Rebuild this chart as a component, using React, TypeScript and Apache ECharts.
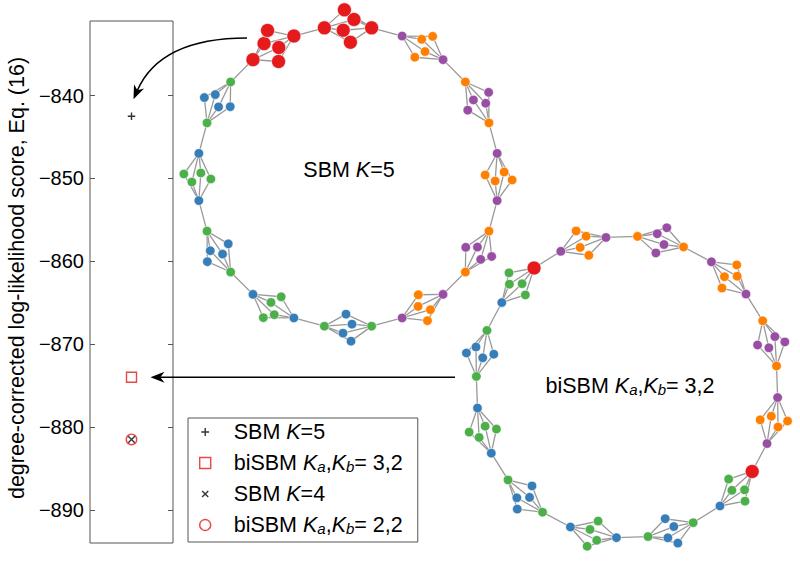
import React, { useEffect, useRef } from 'react';
import * as echarts from 'echarts';

const FONT = '"Liberation Sans", Arial, Helvetica, sans-serif';
const COLORS: Record<string, string> = {
  R: '#e41a1c',
  B: '#377eb8',
  G: '#4daf4a',
  O: '#ff7f00',
  P: '#984ea3',
};

// score panel data
const modelNames = ['SBM K=5', 'biSBM Ka,Kb= 3,2', 'SBM K=4', 'biSBM Ka,Kb= 2,2'];
const modelScores = [-842.5, -874.0, -881.5, -881.5];
const yTicks = [-890, -880, -870, -860, -850, -840];
const yRange = [-894, -831];
const yTitle = 'degree-corrected log-likelihood score, Eq. (16)';

// network rings: each motif = 2 hubs (colors) + 4 leaves (one color)
const ring1HubColors = ['RR', 'RR', 'PP', 'OO', 'PP', 'OO', 'PP', 'GG', 'BB', 'GG', 'BB', 'GG'];
const ring1LeafColors = ['R', 'R', 'O', 'P', 'O', 'P', 'O', 'B', 'G', 'B', 'G', 'B'];
const ring2HubColors = ['BR', 'PP', 'OO', 'PP', 'OO', 'PP', 'RB', 'GG', 'BB', 'GG', 'BB', 'GG'];
const ring2LeafColors = ['G', 'O', 'P', 'O', 'P', 'O', 'G', 'B', 'G', 'B', 'G', 'B'];

// layout constants
const RING_R = 151;
const RING1 = { cx: 348, cy: 177, start: -30 };
const RING2 = { cx: 627, cy: 387, start: -47 };
const STEP = 30;
const HUB_HALF = 9;
const LEAF_PATTERN = [
  [-2, -12],
  [4, -2],
  [-5, 7],
  [3, 15],
];

type GNode = { name: string; value: number[]; symbolSize: number; itemStyle: any };
type GLink = { source: number; target: number };

function buildRing(
  prefix: string,
  ring: { cx: number; cy: number; start: number },
  hubs: string[],
  leaves: string[],
  nodes: GNode[],
  links: GLink[]
) {
  const deg = Math.PI / 180;
  const pt = (ang: number, rho: number) => [ring.cx + rho * Math.sin(ang), ring.cy - rho * Math.cos(ang)];
  const mk = (p: number[], c: string): GNode => ({
    name: prefix + nodes.length,
    value: [p[0], p[1]],
    symbolSize: c === 'R' ? 14 : 9.5,
    itemStyle: { color: COLORS[c] },
  });
  const hubIdx: number[][] = [];
  const n = hubs.length;
  for (let k = 0; k < n; k++) {
    const th = (ring.start + k * STEP) * deg;
    const s = Math.sin(th);
    const c = Math.cos(th);
    const h1 = nodes.length;
    nodes.push(mk(pt(th - HUB_HALF * deg, RING_R), hubs[k][0]));
    const h2 = nodes.length;
    nodes.push(mk(pt(th + HUB_HALF * deg, RING_R), hubs[k][1]));
    hubIdx.push([h1, h2]);
    const mid = pt(th, RING_R * Math.cos(HUB_HALF * deg));
    const flip = k % 2 ? -1 : 1;
    const sc = leaves[k] === 'R' ? 1.2 : 1;
    LEAF_PATTERN.forEach(([t, r]) => {
      const tt = t * flip * sc;
      const rr = r * sc;
      const x = mid[0] + tt * c + rr * s;
      const y = mid[1] + tt * s - rr * c;
      const li = nodes.length;
      nodes.push(mk([x, y], leaves[k]));
      links.push({ source: h1, target: li }, { source: h2, target: li });
    });
  }
  for (let k = 0; k < n; k++) {
    links.push({ source: hubIdx[k][1], target: hubIdx[(k + 1) % n][0] });
  }
}

const FS = 21.5;
const richStyles = {
  n: { fontSize: FS, fontFamily: FONT, color: '#000', lineHeight: 22 },
  i: { fontSize: FS, fontFamily: FONT, color: '#000', fontStyle: 'italic', lineHeight: 22 },
  s: { fontSize: 15, fontFamily: FONT, color: '#000', fontStyle: 'italic', lineHeight: 10, verticalAlign: 'bottom' },
};

function richName(name: string): string {
  if (name.startsWith('biSBM')) {
    const tail = name.split('= ')[1];
    return `{n|biSBM }{i|K}{s|a}{n|,}{i|K}{s|b}{n|= ${tail}}`;
  }
  const tail = name.split('K')[1];
  return `{n|SBM }{i|K}{n|${tail}}`;
}

const PLUS = 'path://M0,5L10,5M5,0L5,10';
const CROSS = 'path://M0,0L10,10M10,0L0,10';
// legend versions with invisible padding so the visible glyph is smaller
const PLUS_L = 'path://M-2,-2L-2,-2M12,12L12,12M0,5L10,5M5,0L5,10';
const CROSS_L = 'path://M-4,-4L-4,-4M14,14L14,14M0,0L10,10M10,0L0,10';
const symbols = [PLUS, 'rect', CROSS, 'circle'];
const legendIcons = [PLUS_L, 'rect', CROSS_L, 'circle'];
const symbolSizes = [7.5, 10, 6.5, 10.5];
const strokeColors = ['#000', '#e41a1c', '#000', '#e41a1c'];

export default function App() {
  const ref = useRef<HTMLDivElement>(null);
  useEffect(() => {
    document.body.style.margin = '0';
    if (!ref.current) return;
    const chart = echarts.init(ref.current, undefined, { renderer: 'svg' });

    const nodes: GNode[] = [];
    const links: GLink[] = [];
    buildRing('a', RING1, ring1HubColors, ring1LeafColors, nodes, links);
    buildRing('b', RING2, ring2HubColors, ring2LeafColors, nodes, links);

    const tickFmt = (v: number) => (v < 0 ? '\u2212' + Math.abs(v) : String(v));

    const option: any = {
      animation: false,
      backgroundColor: '#fff',
      textStyle: { fontFamily: FONT },
      grid: [
        { left: 90, top: 21, width: 83, height: 522, show: true, borderColor: '#555', borderWidth: 1, backgroundColor: 'transparent' },
        { left: 0, top: 0, width: 800, height: 561, show: false },
      ],
      xAxis: [
        { gridIndex: 0, type: 'value', min: 0, max: 1, show: false },
        { gridIndex: 1, type: 'value', min: 0, max: 800, show: false },
      ],
      yAxis: [
        {
          gridIndex: 0,
          type: 'value',
          min: yRange[0],
          max: yRange[1],
          position: 'left',
          axisLine: { show: false },
          splitLine: { show: false },
          axisTick: { show: true, inside: true, length: 5, customValues: yTicks, lineStyle: { color: '#555' } },
          axisLabel: { show: true, customValues: yTicks, formatter: tickFmt, fontSize: 20, color: '#000', fontFamily: FONT, margin: 6 },
        },
        {
          gridIndex: 0,
          type: 'value',
          min: yRange[0],
          max: yRange[1],
          position: 'right',
          axisLine: { show: false },
          splitLine: { show: false },
          axisTick: { show: true, inside: true, length: 5, customValues: yTicks, lineStyle: { color: '#555' } },
          axisLabel: { show: false },
        },
        { gridIndex: 1, type: 'value', min: 0, max: 561, inverse: true, show: false },
      ],
      legend: {
        orient: 'vertical',
        left: 188,
        top: 418,
        padding: [3, 15, 6, 11],
        itemGap: 9,
        itemWidth: 11,
        itemHeight: 11,
        borderColor: '#555',
        borderWidth: 1,
        backgroundColor: '#fff',
        selectedMode: false,
        formatter: (name: string) => richName(name),
        textStyle: { fontSize: FS, lineHeight: 22, fontFamily: FONT, color: '#000', padding: [0, 0, 0, 18], rich: richStyles },
        data: modelNames.map((name, i) => ({
          name,
          icon: legendIcons[i],
          itemStyle: { color: 'transparent', borderColor: strokeColors[i], borderWidth: 1.4 },
        })),
      },
      series: [
        {
          type: 'graph',
          layout: 'none',
          coordinateSystem: 'cartesian2d',
          xAxisIndex: 1,
          yAxisIndex: 2,
          data: nodes,
          links,
          symbol: 'circle',
          silent: true,
          z: 1,
          itemStyle: { borderColor: '#fff', borderWidth: 0.6 },
          lineStyle: { color: '#999', width: 1.3, opacity: 1, curveness: 0 },
          emphasis: { disabled: true },
          label: { show: false },
        },
        ...modelNames.map((name, i) => ({
          type: 'scatter',
          name,
          xAxisIndex: 0,
          yAxisIndex: 0,
          data: [[0.5, modelScores[i]]],
          symbol: symbols[i],
          symbolSize: symbolSizes[i],
          z: 5 + (i === 2 ? 1 : 0),
          itemStyle: { color: 'transparent', borderColor: strokeColors[i], borderWidth: 1.4 },
          emphasis: { disabled: true },
        })),
      ],
    };
    chart.setOption(option);

    // annotations: arrows pointing at the scores, texts for each ring
    const plusPix = chart.convertToPixel({ gridIndex: 0 }, [0.5, modelScores[0]]) as number[];
    const sqPix = chart.convertToPixel({ gridIndex: 0 }, [0.5, modelScores[1]]) as number[];

    const arrowHead = (tip: number[], d: number[], L = 14, W = 5.5) => {
      const nx = -d[1];
      const ny = d[0];
      return {
        type: 'polygon',
        shape: {
          points: [
            tip,
            [tip[0] - L * d[0] + W * nx, tip[1] - L * d[1] + W * ny],
            [tip[0] - 0.7 * L * d[0], tip[1] - 0.7 * L * d[1]],
            [tip[0] - L * d[0] - W * nx, tip[1] - L * d[1] - W * ny],
          ],
        },
        style: { fill: '#000' },
        z: 100,
      };
    };

    const tip1 = [plusPix[0] + 2, plusPix[1] - 17];
    const ctrl1 = [160, 38];
    const len1 = Math.hypot(tip1[0] - ctrl1[0], tip1[1] - ctrl1[1]);
    const d1 = [(tip1[0] - ctrl1[0]) / len1, (tip1[1] - ctrl1[1]) / len1];
    const end1 = [tip1[0] - 9 * d1[0], tip1[1] - 9 * d1[1]];

    const tip2 = [sqPix[0] + 19, sqPix[1]];
    const d2 = [-1, 0];

    chart.setOption({
      graphic: [
        {
          type: 'text',
          x: 17,
          y: 278,
          rotation: Math.PI / 2,
          z: 100,
          style: {
            text: yTitle,
            fontSize: FS,
            fontFamily: FONT,
            fill: '#000',
            align: 'center',
            verticalAlign: 'middle',
          },
        },
        {
          type: 'bezierCurve',
          shape: { x1: 247, y1: 38, cpx1: ctrl1[0], cpy1: ctrl1[1], x2: end1[0], y2: end1[1] },
          style: { stroke: '#000', lineWidth: 1.6, fill: 'none' },
          z: 100,
        },
        arrowHead(tip1, d1),
        {
          type: 'line',
          shape: { x1: 455, y1: tip2[1], x2: tip2[0] + 9, y2: tip2[1] },
          style: { stroke: '#000', lineWidth: 1.6 },
          z: 100,
        },
        arrowHead(tip2, d2),
        {
          type: 'text',
          x: 349,
          y: 170,
          z: 100,
          style: {
            text: '{n|SBM }{i|K}{n|=5}',
            rich: richStyles,
            fontSize: FS,
            fontFamily: FONT,
            fill: '#000',
            align: 'center',
            verticalAlign: 'middle',
          },
        },
        {
          type: 'text',
          x: 630,
          y: 386,
          z: 100,
          style: {
            text: '{n|biSBM }{i|K}{s|a}{n|,}{i|K}{s|b}{n|= 3,2}',
            rich: richStyles,
            fontSize: FS,
            fontFamily: FONT,
            fill: '#000',
            align: 'center',
            verticalAlign: 'middle',
          },
        },
      ],
    });

    return () => chart.dispose();
  }, []);
  return <div ref={ref} style={{ width: 800, height: 561 }} />;
}
